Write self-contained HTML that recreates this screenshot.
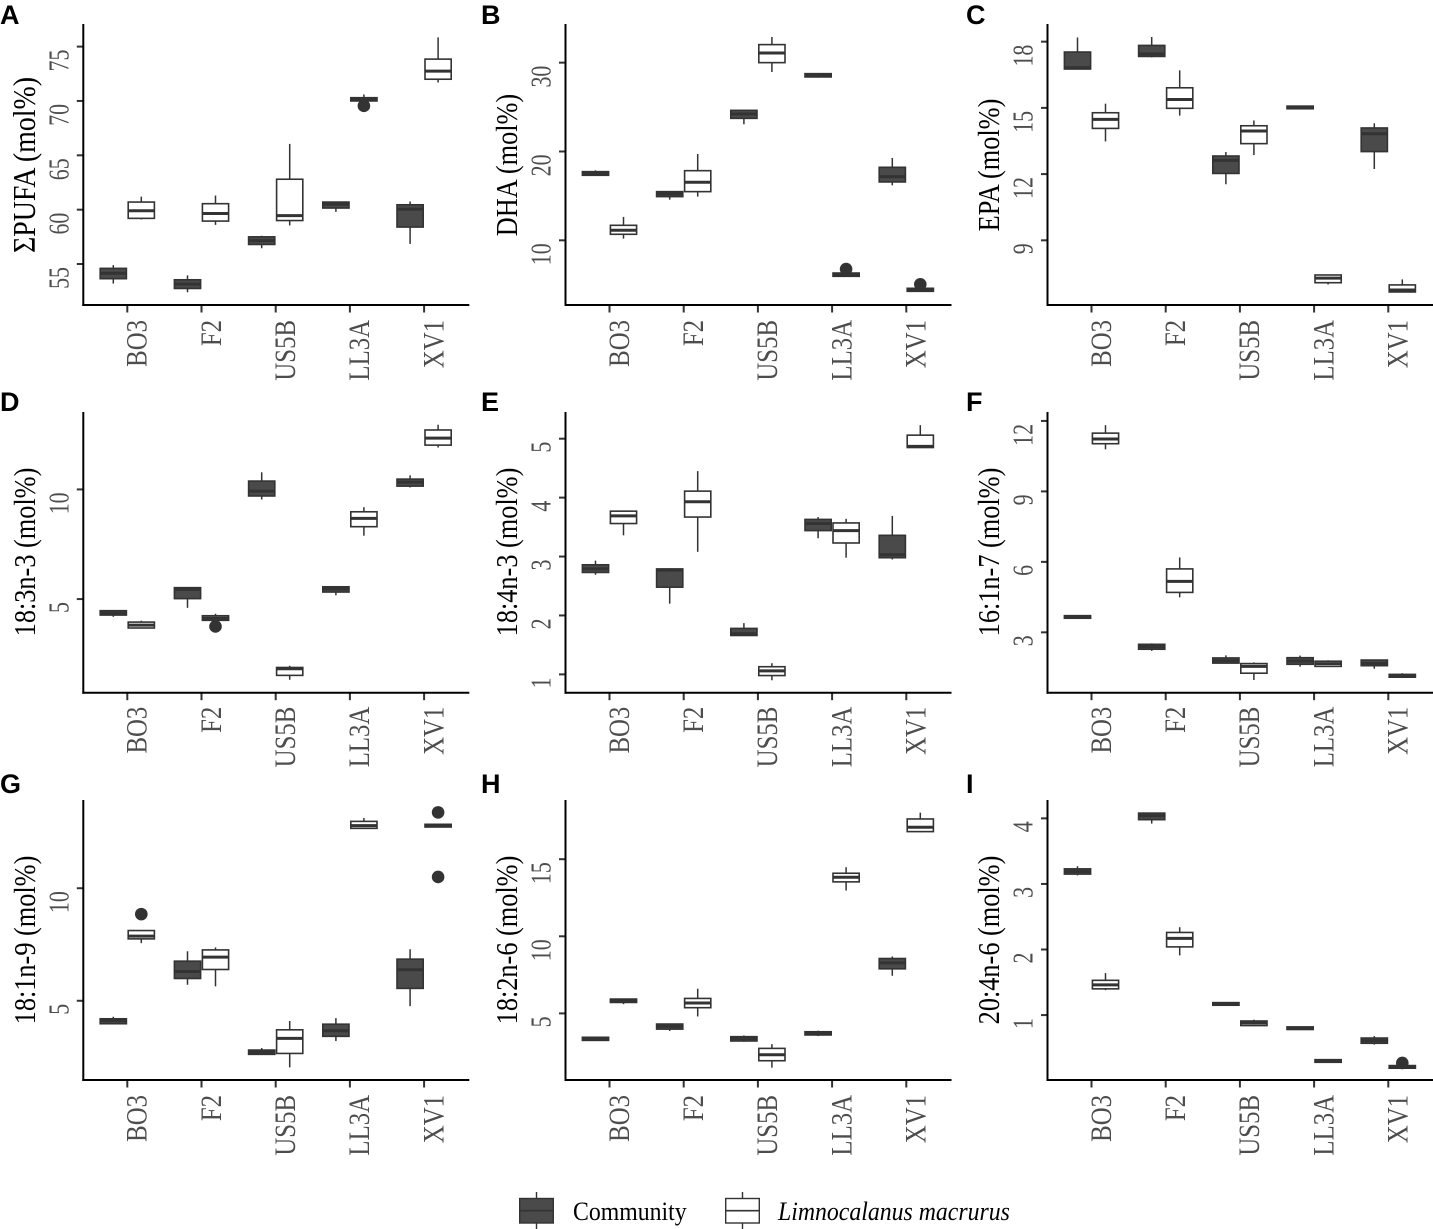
<!DOCTYPE html>
<html lang="en">
<head>
<meta charset="utf-8">
<title>Fatty acid boxplots</title>
<style>
html,body{margin:0;padding:0;background:#fff;}
svg{display:block;}
.letter{font-family:"Liberation Sans",sans-serif;font-weight:700;font-size:27px;fill:#000;}
.ytitle{font-family:"Liberation Serif",serif;font-size:26.3px;fill:#000;text-anchor:middle;}
.legtext{font-family:"Liberation Serif",serif;font-size:23.8px;fill:#000;}
.ytick{font-family:"Liberation Serif",serif;font-size:21.9px;fill:#4d4d4d;text-anchor:end;}
.xtick{font-family:"Liberation Serif",serif;font-size:24.8px;fill:#4d4d4d;text-anchor:end;}
</style>
</head>
<body>
<svg id="fig" xmlns="http://www.w3.org/2000/svg" width="1433" height="1229" viewBox="0 0 1433 1229">
  <rect width="1433" height="1229" fill="#fff"/>
  <text class="letter" x="0" y="24">A</text>
  <text class="letter" x="481" y="24">B</text>
  <text class="letter" x="966" y="24">C</text>
  <text class="letter" x="0" y="411">D</text>
  <text class="letter" x="481" y="411">E</text>
  <text class="letter" x="966" y="411">F</text>
  <text class="letter" x="0" y="793">G</text>
  <text class="letter" x="481" y="793">H</text>
  <text class="letter" x="966" y="793">I</text>

  <text class="ytitle" style="font-size:27.9px" transform="translate(35,165) rotate(-90) scale(1,1.12)">ΣPUFA (mol%)</text>
  <text class="ytitle" transform="translate(517,165) rotate(-90) scale(1,1.18)">DHA (mol%)</text>
  <text class="ytitle" transform="translate(999,165) rotate(-90) scale(1,1.18)">EPA (mol%)</text>
  <text class="ytitle" transform="translate(35,552) rotate(-90) scale(1,1.18)">18:3n-3 (mol%)</text>
  <text class="ytitle" transform="translate(517,552) rotate(-90) scale(1,1.18)">18:4n-3 (mol%)</text>
  <text class="ytitle" transform="translate(999,552) rotate(-90) scale(1,1.18)">16:1n-7 (mol%)</text>
  <text class="ytitle" transform="translate(35,940) rotate(-90) scale(1,1.18)">18:1n-9 (mol%)</text>
  <text class="ytitle" transform="translate(517,940) rotate(-90) scale(1,1.18)">18:2n-6 (mol%)</text>
  <text class="ytitle" transform="translate(999,940) rotate(-90) scale(1,1.18)">20:4n-6 (mol%)</text>

  <g id="panels"></g>

  <g>
    <g>
      <line x1="536.5" x2="536.5" y1="1192" y2="1229" stroke="#333" stroke-width="1.4"/>
      <rect x="519.7" y="1198.5" width="33.6" height="24.5" fill="#4a4a4a" stroke="#333" stroke-width="1.4"/>
      <line x1="519.7" x2="553.3" y1="1210.7" y2="1210.7" stroke="#333" stroke-width="1.6"/>
      <text class="legtext" transform="translate(573,1220) scale(1,1.1)">Community</text>
    </g>
    <g>
      <line x1="742.5" x2="742.5" y1="1192" y2="1229" stroke="#333" stroke-width="1.4"/>
      <rect x="725.7" y="1198.5" width="33.6" height="24.5" fill="#fff" stroke="#333" stroke-width="1.4"/>
      <line x1="725.7" x2="759.3" y1="1210.7" y2="1210.7" stroke="#333" stroke-width="1.6"/>
      <text class="legtext" transform="translate(778,1220) scale(1,1.1)" font-style="italic">Limnocalanus macrurus</text>
    </g>
  </g>
</svg>
<script>
const categories = ["BO3", "F2", "US5B", "LL3A", "XV1"];

// each box: [lower whisker, q1, median, q3, upper whisker]
const domainA = [51.23, 77.08];
const ticksA = [55, 60, 65, 70, 75];
const communityA = [[53.2,53.65,54.15,54.6,54.9],[52.4,52.75,53.15,53.55,53.95],[56.45,56.8,57.15,57.5,57.6],[59.8,60.15,60.5,60.7,60.75],[56.85,58.4,60.05,60.45,60.75]];
const limnoA = [[59.1,59.2,59.9,60.7,61.2],[58.6,58.95,59.65,60.55,61.3],[58.55,59,59.45,62.8,66.05],[70,70,70.15,70.3,70.6],[71.7,72,72.75,73.85,75.85]];
const outliersA = [["LL3A","limno",69.55]];

const domainB = [2.72, 34.35];
const ticksB = [10, 20, 30];
const communityB = [[17.32,17.32,17.54,17.73,17.88],[14.58,14.92,15.22,15.48,15.52],[23.06,23.73,24.22,24.63,24.67],[28.31,28.39,28.57,28.76,28.76],[16.19,16.57,17.17,18.22,19.27]];
const limnoB = [[10.19,10.68,11.13,11.69,12.63],[14.92,15.48,16.53,17.84,19.72],[28.95,30,31.09,32.03,32.89],[5.95,5.95,6.13,6.32,6.32],[4.18,4.26,4.43,4.6,4.6]];
const outliersB = [["LL3A","limno",6.77],["XV1","limno",5.05]];

const domainC = [6.07, 18.8];
const ticksC = [9, 12, 15, 18];
const communityC = [[16.76,16.76,16.82,17.53,18.19],[17.29,17.33,17.44,17.83,18.21],[11.54,12.03,12.62,12.82,13],[14.96,14.96,15.02,15.08,15.08],[12.23,13.02,13.83,14.09,14.3]];
const limnoC = [[13.48,14.07,14.48,14.78,15.19],[14.65,14.98,15.38,15.91,16.7],[12.86,13.38,13.95,14.19,14.43],[7,7.08,7.29,7.43,7.43],[6.66,6.66,6.75,6.98,7.23]];
const outliersC = [];

const domainD = [0.73, 13.53];
const ticksD = [5, 10];
const communityD = [[4.19,4.27,4.36,4.47,4.47],[4.6,5.02,5.44,5.52,5.52],[9.54,9.7,9.92,10.38,10.78],[5.17,5.32,5.46,5.56,5.56],[10.09,10.15,10.33,10.47,10.64]];
const limnoD = [[3.68,3.68,3.81,3.95,4.01],[4.03,4.03,4.13,4.24,4.33],[1.32,1.52,1.82,1.88,1.96],[7.89,8.3,8.68,8.98,9.19],[11.91,12.02,12.34,12.71,12.95]];
const outliersD = [["F2","limno",3.75]];

const domainE = [0.689, 5.453];
const ticksE = [1, 2, 3, 4, 5];
const communityE = [[2.69,2.73,2.79,2.86,2.93],[2.2,2.48,2.77,2.79,2.8],[1.66,1.66,1.69,1.78,1.87],[3.31,3.44,3.56,3.63,3.67],[2.95,2.98,3.03,3.36,3.69]];
const limnoE = [[3.36,3.56,3.69,3.77,3.77],[3.08,3.67,3.93,4.11,4.45],[0.9,0.98,1.06,1.13,1.19],[2.98,3.23,3.44,3.57,3.64],[4.85,4.85,4.87,5.06,5.23]];
const outliersE = [];

const domainF = [0.43, 12.38];
const ticksF = [3, 6, 9, 12];
const communityF = [[3.6,3.6,3.65,3.71,3.71],[2.21,2.28,2.39,2.49,2.53],[1.67,1.69,1.79,1.91,2.02],[1.54,1.64,1.78,1.92,2.01],[1.45,1.58,1.68,1.82,1.82]];
const limnoF = [[10.79,11.03,11.23,11.48,11.82],[4.49,4.7,5.17,5.7,6.19],[0.97,1.26,1.55,1.67,1.72],[1.55,1.55,1.67,1.77,1.81],[1.09,1.09,1.16,1.21,1.26]];
const outliersF = [];

const domainG = [1.48, 13.92];
const ticksG = [5, 10];
const communityG = [[3.98,3.98,4.11,4.2,4.29],[5.71,5.99,6.3,6.76,7.2],[2.59,2.62,2.72,2.81,2.9],[3.21,3.42,3.67,3.96,4.23],[4.76,5.55,6.38,6.85,7.29]];
const limnoG = [[7.56,7.75,7.87,8.12,8.12],[5.64,6.39,6.94,7.26,7.37],[2.04,2.66,3.33,3.71,4.1],[12.66,12.66,12.78,12.97,13.12],[12.72,12.72,12.78,12.84,12.84]];
const outliersG = [["BO3","limno",8.85],["XV1","limno",13.37],["XV1","limno",10.5]];

const domainH = [0.68, 18.84];
const ticksH = [5, 10, 15];
const communityH = [[3.25,3.25,3.36,3.45,3.45],[3.86,3.98,4.16,4.31,4.33],[3.16,3.21,3.36,3.49,3.57],[3.53,3.6,3.7,3.81,3.88],[7.44,7.89,8.28,8.56,8.69]];
const limnoH = [[5.6,5.71,5.84,5.93,5.93],[4.8,5.37,5.67,5.97,6.6],[1.48,1.93,2.32,2.73,3.01],[12.97,13.53,13.83,14.09,14.48],[16.75,16.79,17.07,17.61,18.02]];
const outliersH = [];

const domainI = [0.01, 4.28];
const ticksI = [1, 2, 3, 4];
const communityI = [[3.13,3.15,3.19,3.23,3.27],[3.92,3.98,4.04,4.08,4.09],[1.15,1.15,1.17,1.19,1.19],[0.78,0.78,0.8,0.82,0.82],[0.55,0.57,0.61,0.65,0.68]];
const limnoI = [[1.38,1.4,1.46,1.53,1.64],[1.91,2.04,2.17,2.26,2.34],[0.83,0.84,0.88,0.91,0.93],[0.28,0.28,0.3,0.32,0.32],[0.19,0.19,0.21,0.23,0.23]];
const outliersI = [["XV1","limno",0.27]];

const panelDefs = [
  {id:"a", domain:domainA, ticks:ticksA, community:communityA, limno:limnoA, outliers:outliersA},
  {id:"b", domain:domainB, ticks:ticksB, community:communityB, limno:limnoB, outliers:outliersB},
  {id:"c", domain:domainC, ticks:ticksC, community:communityC, limno:limnoC, outliers:outliersC},
  {id:"d", domain:domainD, ticks:ticksD, community:communityD, limno:limnoD, outliers:outliersD},
  {id:"e", domain:domainE, ticks:ticksE, community:communityE, limno:limnoE, outliers:outliersE},
  {id:"f", domain:domainF, ticks:ticksF, community:communityF, limno:limnoF, outliers:outliersF},
  {id:"g", domain:domainG, ticks:ticksG, community:communityG, limno:limnoG, outliers:outliersG},
  {id:"h", domain:domainH, ticks:ticksH, community:communityH, limno:limnoH, outliers:outliersH},
  {id:"i", domain:domainI, ticks:ticksI, community:communityI, limno:limnoI, outliers:outliersI}
];

const SVGNS = "http://www.w3.org/2000/svg";
const colLeft = [83.3, 565.5, 1047.5];
const rowTop = [24, 412, 800];
const rowBottom = [305, 692.7, 1080];
const xTopGap = [15, 14, 15];
const plotWidth = 386;
const firstTick = 44;
const tickStep = 74.2;
const dodge = 14;
const boxWidth = 26.2;
const INK = "#333333";
const DARK = "#4a4a4a";

function mk(tag, attrs, parent) {
  const el = document.createElementNS(SVGNS, tag);
  for (const k in attrs) el.setAttribute(k, attrs[k]);
  parent.appendChild(el);
  return el;
}

function drawBox(g, cx, stats, y, series, name) {
  const box = mk("g", {}, g);
  
  
  const fill = series === "community" ? DARK : "#ffffff";
  mk("line", {x1:cx, x2:cx, y1:y(stats[0]), y2:y(stats[4]), stroke:INK, "stroke-width":1.5}, box);
  mk("rect", {x:cx-boxWidth/2, y:y(stats[3]), width:boxWidth, height:Math.max(y(stats[1])-y(stats[3]),0.1), fill:fill, stroke:INK, "stroke-width":1.6}, box);
  mk("line", {x1:cx-boxWidth/2, x2:cx+boxWidth/2, y1:y(stats[2]), y2:y(stats[2]), stroke:INK, "stroke-width":3}, box);
}

function drawPanel(def, index) {
  const col = index % 3;
  const row = Math.floor(index / 3);
  const left = colLeft[col];
  const top = rowTop[row];
  const bottom = rowBottom[row];
  const root = document.getElementById("panels");
  const g = mk("g", {}, root);
  
  

  const y = v => bottom - (v - def.domain[0]) / (def.domain[1] - def.domain[0]) * (bottom - top);
  const x = i => left + firstTick + i * tickStep;

  def.ticks.forEach(t => {
    const tick = mk("line", {x1:left-6.5, x2:left, y1:y(t), y2:y(t), stroke:INK, "stroke-width":2}, g);
    
    
    const label = mk("text", {class:"ytick", transform:"translate(" + (left-15) + "," + (y(t)+3) + ") rotate(-90) scale(1,1.28)"}, g);
    
    
    label.textContent = String(t);
  });

  categories.forEach((c, i) => {
    const tick = mk("line", {x1:x(i), x2:x(i), y1:bottom, y2:bottom+7.5, stroke:INK, "stroke-width":2}, g);
    
    
    const label = mk("text", {class:"xtick", transform:"translate(" + (x(i)+19.3) + "," + (bottom+xTopGap[row]) + ") rotate(-90) scale(1,1.2)"}, g);
    
    
    label.textContent = c;
    drawBox(g, x(i)-dodge, def.community[i], y, "community", "box-community-" + c.toLowerCase());
    drawBox(g, x(i)+dodge, def.limno[i], y, "limno", "box-limnocalanus-" + c.toLowerCase());
  });

  def.outliers.forEach(o => {
    const i = categories.indexOf(o[0]);
    const cx = x(i) + (o[1] === "community" ? -dodge : dodge);
    const dot = mk("circle", {cx:cx, cy:y(o[2]), r:6.3, fill:INK}, g);
    
    
  });

  const yAxis = mk("line", {x1:left, x2:left, y1:top, y2:bottom+1, stroke:"#000", "stroke-width":2}, g);
  
  
  const xAxis = mk("line", {x1:left-1, x2:left+plotWidth, y1:bottom, y2:bottom, stroke:"#000", "stroke-width":2}, g);
  
  
}

panelDefs.forEach(drawPanel);
</script>
</body>
</html>
